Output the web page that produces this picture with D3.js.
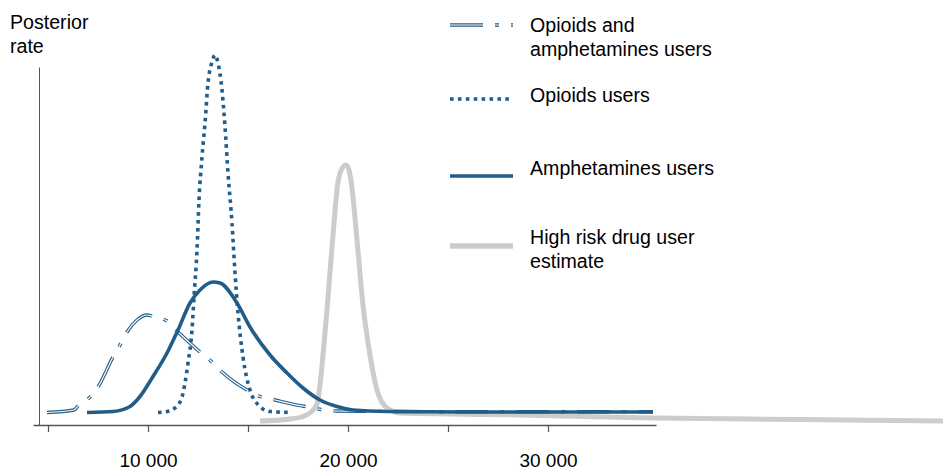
<!DOCTYPE html>
<html>
<head>
<meta charset="utf-8">
<script src="https://cdn.jsdelivr.net/npm/d3@7"></script>
<style>
  html, body { margin: 0; padding: 0; background: #fff; }
  svg { display: block; font-family: "Liberation Sans", Arial, sans-serif; }
</style>
</head>
<body>
<svg id="chart" width="943" height="470"></svg>
<script>
// ---- data ----
const bothX = [4950, 6300, 6500, 7050, 7500, 8250, 8600, 8950, 9450, 9950, 10250, 10900, 11500, 12600, 13200, 13700, 14950, 15600, 16350, 17850, 19450, 22600, 27600, 35250];
const bothY = [1.25, 1.5, 1.9, 2.7, 3.8, 6.8, 8.0, 9.3, 10.5, 11.0, 10.85, 10.45, 9.3, 7.3, 6.3, 5.3, 3.5, 2.85, 2.5, 1.85, 1.4, 1.35, 1.32, 1.32];

const opioidsX = [10500, 10950, 11350, 11700, 11850, 12000, 12200, 12300, 12450, 12550, 12700, 12850, 13000, 13200, 13350, 13500, 13700, 13850, 14000, 14200, 14350, 14500, 14750, 15100, 15600, 16100, 17200];
const opioidsY = [1.25, 1.35, 1.7, 2.8, 4.2, 6.2, 9.5, 12.8, 17.5, 22.5, 26.8, 30.2, 34.2, 36.3, 37.0, 36.2, 33.5, 29.8, 25.2, 20.2, 15.2, 11.2, 6.8, 3.5, 1.85, 1.35, 1.25];

const amphX = [6950, 8250, 9100, 9600, 10250, 10950, 11500, 12100, 12600, 13250, 13600, 14450, 15100, 16100, 16950, 17750, 18600, 19450, 20250, 21950, 27600, 35250];
const amphY = [1.25, 1.35, 1.85, 2.85, 4.85, 7.2, 9.5, 12.2, 13.5, 14.3, 14.2, 12.2, 9.8, 7.0, 5.2, 3.7, 2.5, 1.85, 1.5, 1.35, 1.3, 1.3];

const highRiskX = [15600, 17100, 17750, 18150, 18450, 18600, 18750, 18950, 19100, 19250, 19500, 19750, 19900, 20050, 20200, 20450, 20750, 21100, 21450, 21950, 22600, 23600, 28600, 35250, 42600, 49750];
const highRiskY = [0.4, 0.6, 0.85, 1.3, 2.1, 4.0, 7.0, 11.5, 15.3, 19.0, 24.3, 25.8, 26.0, 25.5, 23.7, 18.5, 12.0, 7.0, 3.5, 1.7, 1.2, 1.15, 1.0, 0.7, 0.55, 0.4];

const tickValues = [5000, 10000, 15000, 20000, 25000, 30000];
const tickLabels = ["", "10 000", "", "20 000", "", "30 000"];
const legendLabels = [["Opioids and", "amphetamines users"], ["Opioids users"], ["Amphetamines users"], ["High risk drug user", "estimate"]];
const yTitle = ["Posterior", "rate"];

// ---- drawing ----
const BLUE = "#225d89";
const GRAY = "#cccccc";
const FS = "19.6px";
const svg = d3.select("#chart");

const x = d3.scaleLinear().domain([4250, 35400]).range([33, 656]);
const y = d3.scaleLinear().domain([0, 35.8]).range([425, 67]);

const line = d3.line().x(d => x(d[0])).y(d => y(d[1])).curve(d3.curveMonotoneX);
const zip = (a, b) => a.map((v, i) => [v, b[i]]);

// High risk (gray) first
svg.append("path").attr("d", line(zip(highRiskX, highRiskY)))
  .attr("fill", "none").attr("stroke", GRAY).attr("stroke-width", 5).attr("stroke-linejoin", "round");

// Opioids and amphetamines: double dash-dot line
const dbl = line(zip(bothX, bothY));
svg.append("path").attr("d", dbl).attr("fill", "none").attr("stroke", BLUE)
  .attr("stroke-width", 3.4).attr("stroke-dasharray", "33 12 4 12");
svg.append("path").attr("d", dbl).attr("fill", "none").attr("stroke", "#fff")
  .attr("stroke-width", 1.2).attr("stroke-dasharray", "33 12 4 12");

// Amphetamines: solid
svg.append("path").attr("d", line(zip(amphX, amphY)))
  .attr("fill", "none").attr("stroke", BLUE).attr("stroke-width", 3.6).attr("stroke-linejoin", "round");

// Opioids: dotted
svg.append("path").attr("d", line(zip(opioidsX, opioidsY)))
  .attr("fill", "none").attr("stroke", BLUE).attr("stroke-width", 3.6).attr("stroke-dasharray", "3.6 4.3");

// Axes
const xAxis = d3.axisBottom(x).tickValues(tickValues)
  .tickFormat((d, i) => tickLabels[i]).tickSize(7).tickSizeOuter(0).tickPadding(21.5);
const gx = svg.append("g").attr("transform", "translate(0,425)").call(xAxis);
gx.select(".domain").attr("stroke", "#555").attr("stroke-width", 1.5);
gx.selectAll(".tick line").attr("stroke", "#555").attr("stroke-width", 1.2);
gx.selectAll(".tick text").attr("font-size", "19px").attr("fill", "#000")
  .attr("font-family", "'Liberation Sans', Arial, sans-serif");

const yAxis = d3.axisLeft(y).tickValues([]).tickSizeOuter(0);
const gy = svg.append("g").attr("transform", "translate(39,0)").call(yAxis);
gy.select(".domain").attr("stroke", "#555").attr("stroke-width", 1);

// Y title
const yt = svg.append("text").attr("x", 10).attr("y", 29).attr("font-size", FS).attr("fill", "#000");
yTitle.forEach((t, i) => yt.append("tspan").attr("x", 10).attr("dy", i ? 24 : 0).text(t));

// Legend
const legLineY = [25, 99, 176, 246];
const legTextY = [31.5, 101.5, 175, 244];
const legStyles = [
  { double: true, dash: "33 12 4 12", w: 3.4, c: BLUE },
  { dash: "3.6 4.3", w: 3.6, c: BLUE },
  { dash: null, w: 3.6, c: BLUE },
  { dash: null, w: 5.5, c: GRAY }
];
legendLabels.forEach((lab, i) => {
  const st = legStyles[i];
  const g = svg.append("g");
  const ln = g.append("line").attr("x1", 450).attr("x2", 513).attr("y1", legLineY[i]).attr("y2", legLineY[i])
    .attr("stroke", st.c).attr("stroke-width", st.w);
  if (st.dash) ln.attr("stroke-dasharray", st.dash);
  if (st.double) {
    g.append("line").attr("x1", 450).attr("x2", 513).attr("y1", legLineY[i]).attr("y2", legLineY[i])
      .attr("stroke", "#fff").attr("stroke-width", 1.2).attr("stroke-dasharray", st.dash);
  }
  const t = g.append("text").attr("x", 530).attr("y", legTextY[i]).attr("font-size", FS).attr("fill", "#000");
  lab.forEach((s, j) => t.append("tspan").attr("x", 530).attr("dy", j ? 24 : 0).text(s));
});
</script>
</body>
</html>
